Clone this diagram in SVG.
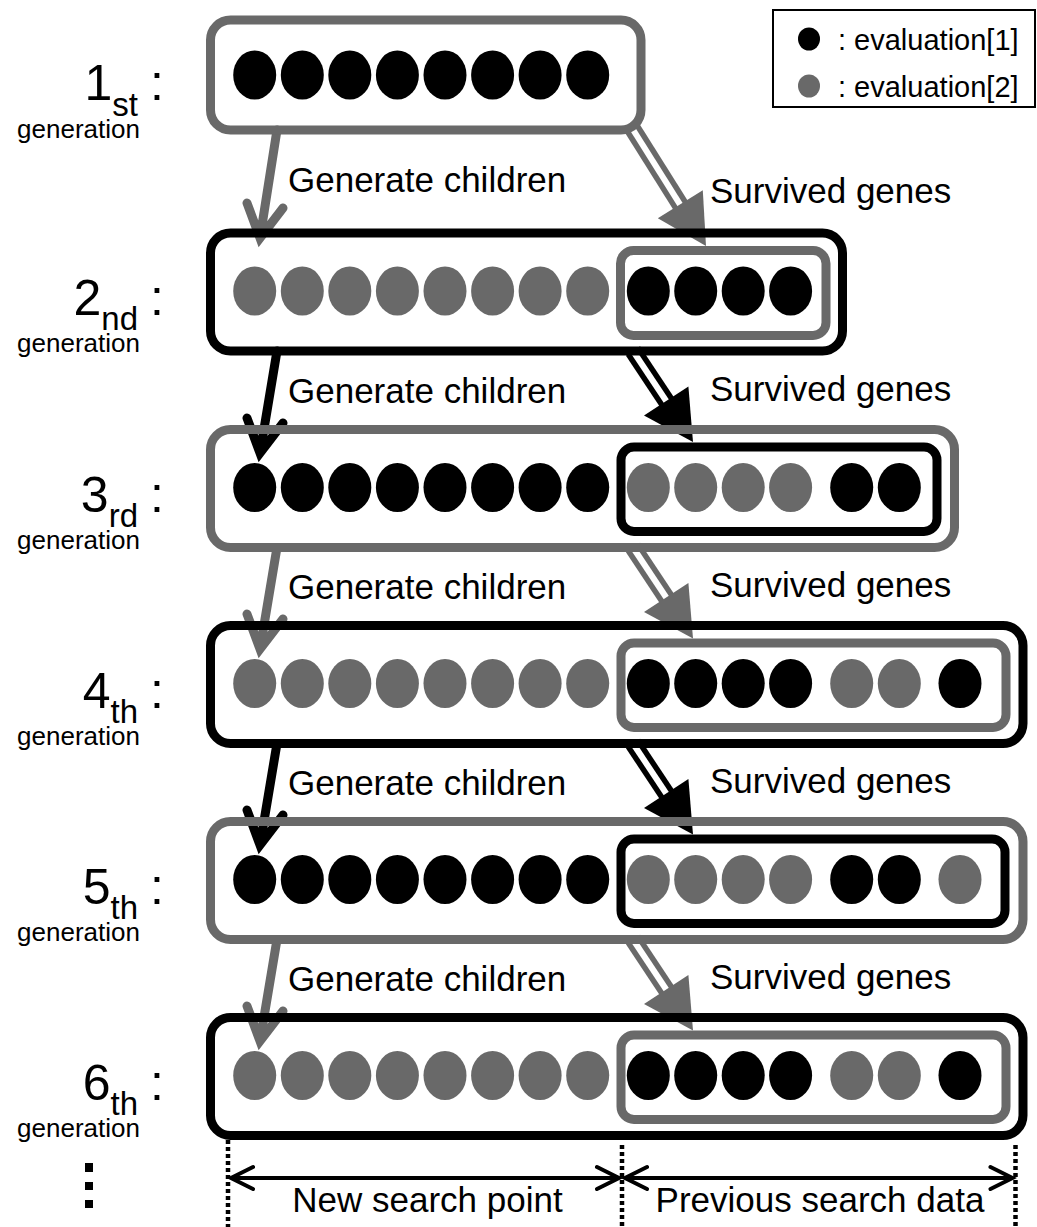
<svg xmlns="http://www.w3.org/2000/svg" width="1037" height="1227" viewBox="0 0 1037 1227">
<style>
text { font-family: "Liberation Sans", Arial, Helvetica, sans-serif; fill: #000; }
.lbl { font-size: 35px; }
.num { font-size: 50px; }
.sub { font-size: 33px; }
.gen { font-size: 26px; }
.leg { font-size: 29px; }
.cb { fill: #000; }
.cg { fill: #696969; }
.ob { fill: none; stroke: #000; stroke-width: 9; }
.og { fill: none; stroke: #696969; stroke-width: 9; }
.ga { fill: none; stroke-width: 9; stroke-linecap: round; stroke-linejoin: miter; stroke-miterlimit: 10; }
.sh { fill: none; stroke-width: 17; stroke-linecap: butt; }
.shw { fill: none; stroke: #fff; stroke-width: 6; stroke-linecap: butt; }
.dot { fill: none; stroke: #000; stroke-width: 4.5; stroke-dasharray: 4 3; }
.dim { fill: none; stroke: #000; stroke-width: 4; stroke-linecap: round; stroke-linejoin: miter; }
</style>
<defs>
<ellipse id="e" cx="0" cy="0" rx="21.5" ry="24.5"/>
</defs>
<rect width="1037" height="1227" fill="#fff"/>

<g id="connectors">
  <path class="ga" stroke="#696969" d="M277,130 L260,238 M247,203 L260,238 L283,208"/>
  <path class="ga" stroke="#000" d="M277,351 L260,453 M247,418 L260,453 L283,423"/>
  <path class="ga" stroke="#696969" d="M277,547.5 L260,649 M247,614 L260,649 L283,619"/>
  <path class="ga" stroke="#000" d="M277,743.5 L260,845 M247,810 L260,845 L283,815"/>
  <path class="ga" stroke="#696969" d="M277,939.5 L260,1041 M247,1006 L260,1041 L283,1011"/>
  <g>
    <path class="sh" stroke="#696969" d="M632,128 L684.8,212.1"/>
    <path class="shw" d="M632,128 L684.8,212.1"/>
    <polygon fill="#696969" points="706,246 657.8,218.3 702.8,190.3"/>
  </g>
  <g>
    <path class="sh" stroke="#000" d="M633,351 L671.2,408.5"/>
    <path class="shw" d="M633,351 L671.2,408.5"/>
    <polygon fill="#000" points="693,442 644,415.4 688.4,386.4"/>
  </g>
  <g>
    <path class="sh" stroke="#696969" d="M633,547.5 L671.2,605"/>
    <path class="shw" d="M633,547.5 L671.2,605"/>
    <polygon fill="#696969" points="693,638.5 644,611.9 688.4,582.9"/>
  </g>
  <g>
    <path class="sh" stroke="#000" d="M633,743.5 L671.2,801"/>
    <path class="shw" d="M633,743.5 L671.2,801"/>
    <polygon fill="#000" points="693,834.5 644,807.9 688.4,778.9"/>
  </g>
  <g>
    <path class="sh" stroke="#696969" d="M633,939.5 L671.2,997"/>
    <path class="shw" d="M633,939.5 L671.2,997"/>
    <polygon fill="#696969" points="693,1030.5 644,1003.9 688.4,974.9"/>
  </g>
  <text class="lbl" x="288" y="192">Generate children</text>
  <text class="lbl" x="710" y="203">Survived genes</text>
  <text class="lbl" x="288" y="403">Generate children</text>
  <text class="lbl" x="710" y="401">Survived genes</text>
  <text class="lbl" x="288" y="599">Generate children</text>
  <text class="lbl" x="710" y="597">Survived genes</text>
  <text class="lbl" x="288" y="795">Generate children</text>
  <text class="lbl" x="710" y="793">Survived genes</text>
  <text class="lbl" x="288" y="991">Generate children</text>
  <text class="lbl" x="710" y="989">Survived genes</text>
</g>

<g id="gen1">
  <rect class="og" x="210.5" y="20" width="430.5" height="110" rx="20"/>
  <g class="cb">
    <use href="#e" x="254.7" y="75"/><use href="#e" x="302.3" y="75"/><use href="#e" x="349.8" y="75"/><use href="#e" x="397.4" y="75"/>
    <use href="#e" x="445" y="75"/><use href="#e" x="492.6" y="75"/><use href="#e" x="540.1" y="75"/><use href="#e" x="587.7" y="75"/>
  </g>
  <text class="num" x="138" y="100" text-anchor="end">1<tspan class="sub" dy="16">st</tspan></text>
  <text class="num" x="150" y="100">:</text>
  <text class="gen" x="140" y="138" text-anchor="end">generation</text>
</g>

<g id="gen2">
  <rect class="ob" x="210.5" y="233" width="632" height="118" rx="20"/>
  <g class="cg">
    <use href="#e" x="254.7" y="291"/><use href="#e" x="302.3" y="291"/><use href="#e" x="349.8" y="291"/><use href="#e" x="397.4" y="291"/>
    <use href="#e" x="445" y="291"/><use href="#e" x="492.6" y="291"/><use href="#e" x="540.1" y="291"/><use href="#e" x="587.7" y="291"/>
  </g>
  <rect class="og" x="620.5" y="250.5" width="205.5" height="85" rx="13"/>
  <g class="cb">
    <use href="#e" x="648.3" y="291"/><use href="#e" x="695.7" y="291"/><use href="#e" x="743.2" y="291"/><use href="#e" x="790.6" y="291"/>
  </g>
  <text class="num" x="138" y="315" text-anchor="end">2<tspan class="sub" dy="15">nd</tspan></text>
  <text class="num" x="150" y="315">:</text>
  <text class="gen" x="140" y="352" text-anchor="end">generation</text>
</g>

<g id="gen3">
  <rect class="og" x="210.5" y="429.5" width="744" height="118" rx="20"/>
  <g class="cb">
    <use href="#e" x="254.7" y="487.5"/><use href="#e" x="302.3" y="487.5"/><use href="#e" x="349.8" y="487.5"/><use href="#e" x="397.4" y="487.5"/>
    <use href="#e" x="445" y="487.5"/><use href="#e" x="492.6" y="487.5"/><use href="#e" x="540.1" y="487.5"/><use href="#e" x="587.7" y="487.5"/>
  </g>
  <rect class="ob" x="621" y="447" width="316" height="84.5" rx="13"/>
  <g class="cg">
    <use href="#e" x="648.3" y="487.5"/><use href="#e" x="695.7" y="487.5"/><use href="#e" x="743.2" y="487.5"/><use href="#e" x="790.6" y="487.5"/>
  </g>
  <g class="cb">
    <use href="#e" x="851.7" y="487.5"/><use href="#e" x="899.3" y="487.5"/>
  </g>
  <text class="num" x="138" y="512" text-anchor="end">3<tspan class="sub" dy="15">rd</tspan></text>
  <text class="num" x="150" y="512">:</text>
  <text class="gen" x="140" y="549" text-anchor="end">generation</text>
</g>

<g id="gen4">
  <rect class="ob" x="210.5" y="625.5" width="812.5" height="118" rx="20"/>
  <g class="cg">
    <use href="#e" x="254.7" y="683.5"/><use href="#e" x="302.3" y="683.5"/><use href="#e" x="349.8" y="683.5"/><use href="#e" x="397.4" y="683.5"/>
    <use href="#e" x="445" y="683.5"/><use href="#e" x="492.6" y="683.5"/><use href="#e" x="540.1" y="683.5"/><use href="#e" x="587.7" y="683.5"/>
  </g>
  <rect class="og" x="621" y="643" width="385" height="84.5" rx="13"/>
  <g class="cb">
    <use href="#e" x="648.3" y="683.5"/><use href="#e" x="695.7" y="683.5"/><use href="#e" x="743.2" y="683.5"/><use href="#e" x="790.6" y="683.5"/>
    <use href="#e" x="960" y="683.5"/>
  </g>
  <g class="cg">
    <use href="#e" x="851.7" y="683.5"/><use href="#e" x="899.3" y="683.5"/>
  </g>
  <text class="num" x="138" y="708" text-anchor="end">4<tspan class="sub" dy="15">th</tspan></text>
  <text class="num" x="150" y="708">:</text>
  <text class="gen" x="140" y="745" text-anchor="end">generation</text>
</g>

<g id="gen5">
  <rect class="og" x="210.5" y="821.5" width="812.5" height="118" rx="20"/>
  <g class="cb">
    <use href="#e" x="254.7" y="879.5"/><use href="#e" x="302.3" y="879.5"/><use href="#e" x="349.8" y="879.5"/><use href="#e" x="397.4" y="879.5"/>
    <use href="#e" x="445" y="879.5"/><use href="#e" x="492.6" y="879.5"/><use href="#e" x="540.1" y="879.5"/><use href="#e" x="587.7" y="879.5"/>
  </g>
  <rect class="ob" x="621" y="839" width="384" height="84.5" rx="13"/>
  <g class="cg">
    <use href="#e" x="648.3" y="879.5"/><use href="#e" x="695.7" y="879.5"/><use href="#e" x="743.2" y="879.5"/><use href="#e" x="790.6" y="879.5"/>
    <use href="#e" x="960" y="879.5"/>
  </g>
  <g class="cb">
    <use href="#e" x="851.7" y="879.5"/><use href="#e" x="899.3" y="879.5"/>
  </g>
  <text class="num" x="138" y="904" text-anchor="end">5<tspan class="sub" dy="15">th</tspan></text>
  <text class="num" x="150" y="904">:</text>
  <text class="gen" x="140" y="941" text-anchor="end">generation</text>
</g>

<g id="gen6">
  <rect class="ob" x="210.5" y="1017.5" width="812.5" height="118" rx="20"/>
  <g class="cg">
    <use href="#e" x="254.7" y="1075.5"/><use href="#e" x="302.3" y="1075.5"/><use href="#e" x="349.8" y="1075.5"/><use href="#e" x="397.4" y="1075.5"/>
    <use href="#e" x="445" y="1075.5"/><use href="#e" x="492.6" y="1075.5"/><use href="#e" x="540.1" y="1075.5"/><use href="#e" x="587.7" y="1075.5"/>
  </g>
  <rect class="og" x="621" y="1035" width="385" height="84.5" rx="13"/>
  <g class="cb">
    <use href="#e" x="648.3" y="1075.5"/><use href="#e" x="695.7" y="1075.5"/><use href="#e" x="743.2" y="1075.5"/><use href="#e" x="790.6" y="1075.5"/>
    <use href="#e" x="960" y="1075.5"/>
  </g>
  <g class="cg">
    <use href="#e" x="851.7" y="1075.5"/><use href="#e" x="899.3" y="1075.5"/>
  </g>
  <text class="num" x="138" y="1100" text-anchor="end">6<tspan class="sub" dy="15">th</tspan></text>
  <text class="num" x="150" y="1100">:</text>
  <text class="gen" x="140" y="1137" text-anchor="end">generation</text>
</g>

<g id="ellipsis">
  <rect x="85" y="1163" width="8" height="9" fill="#000"/>
  <rect x="85" y="1182" width="8" height="8" fill="#000"/>
  <rect x="85" y="1200" width="8" height="8" fill="#000"/>
</g>

<g id="legend">
  <rect x="773" y="10" width="262" height="97" fill="#fff" stroke="#000" stroke-width="2"/>
  <ellipse cx="809" cy="39" rx="11" ry="11.5" fill="#000"/>
  <text class="leg" x="838" y="50">: evaluation[1]</text>
  <ellipse cx="809" cy="86" rx="11" ry="11.5" fill="#696969"/>
  <text class="leg" x="838" y="97">: evaluation[2]</text>
</g>

<g id="range">
  <line class="dot" x1="228" y1="1140" x2="228" y2="1227"/>
  <line class="dot" x1="622" y1="1145" x2="622" y2="1227"/>
  <line class="dot" x1="1015.5" y1="1145" x2="1015.5" y2="1227"/>
  <path class="dim" d="M231,1178 L619,1178 M253,1167 L231,1178 L253,1189 M597,1167 L619,1178 L597,1189"/>
  <path class="dim" d="M625,1178 L1012.5,1178 M647,1167 L625,1178 L647,1189 M990.5,1167 L1012.5,1178 L990.5,1189"/>
  <text class="lbl" x="427.5" y="1212" text-anchor="middle">New search point</text>
  <text class="lbl" x="820" y="1212" text-anchor="middle">Previous search data</text>
</g>
</svg>
